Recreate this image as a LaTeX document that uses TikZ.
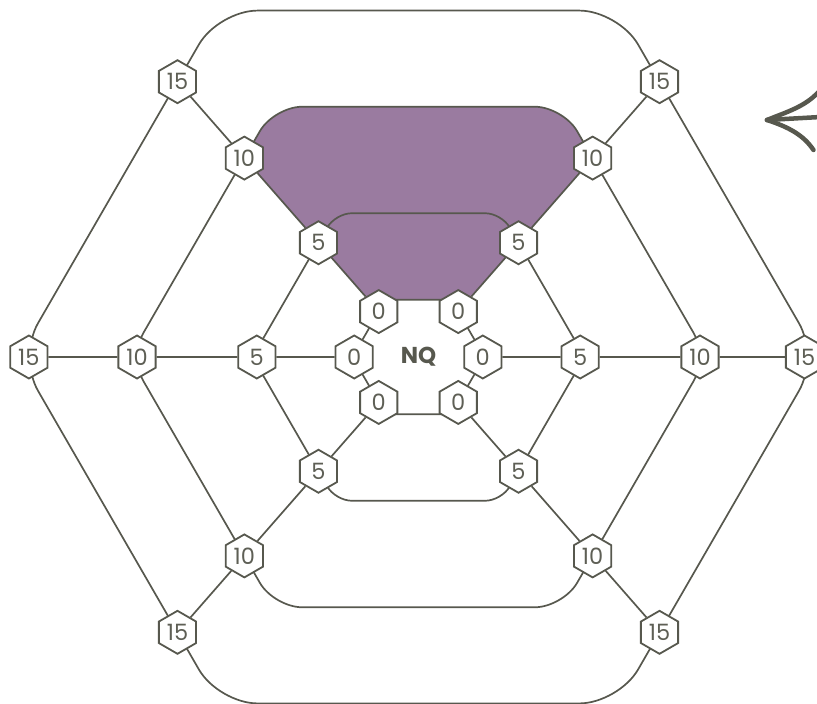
\documentclass[tikz,border=0pt]{standalone}
\usepackage{fontspec}
\setmainfont{Poppins}
\usetikzlibrary{shapes.geometric}
\definecolor{ink}{HTML}{57584E}
\definecolor{txt}{HTML}{5E5F55}
\definecolor{plum}{HTML}{9A7BA0}
\begin{document}
\begin{tikzpicture}[x=1pt,y=1pt,
  ringline/.style={draw=ink, line width=1.7pt},
  hexnode/.style={regular polygon, regular polygon sides=6, regular polygon rotate=30,
    minimum size=43pt, inner sep=0pt, draw=ink, line width=1.8pt, fill=white,
    text=txt, font=\fontsize{22.5}{22.5}\selectfont},
  arrowline/.style={draw=ink, line width=4.5pt, line cap=round}]
\useasboundingbox (-418.5,-347) rectangle (398.5,357);
% purple sector
\begin{scope}
  \clip (0,0) -- (131.2:520) -- (48.8:520) -- cycle;
  \fill[plum, even odd rule]
    [rounded corners=28.2pt] (0:289) -- (60:289) -- (120:289) -- (180:289) -- (240:289) -- (300:289) -- cycle
    [rounded corners=6.4pt] (0:66) -- (60:66) -- (120:66) -- (180:66) -- (240:66) -- (300:66) -- cycle;
\end{scope}
% rings
\draw[ringline, rounded corners=39pt] (0:400) -- (60:400) -- (120:400) -- (180:400) -- (240:400) -- (300:400) -- cycle;
\draw[ringline, rounded corners=28.2pt] (0:289) -- (60:289) -- (120:289) -- (180:289) -- (240:289) -- (300:289) -- cycle;
\draw[ringline, rounded corners=16.2pt] (0:166) -- (60:166) -- (120:166) -- (180:166) -- (240:166) -- (300:166) -- cycle;
\draw[ringline, rounded corners=6.4pt] (0:66) -- (60:66) -- (120:66) -- (180:66) -- (240:66) -- (300:66) -- cycle;
% nodes
\foreach \k/\R/\h in {0/66/64.3,5/166/161.7,10/289/281.5,15/400/386}{
  \node[hexnode] (n\k a) at (0:\h) {\k};
  \node[hexnode] (n\k b) at (48.8:{0.9148*\R}) {\k};
  \node[hexnode] (n\k c) at (131.2:{0.9148*\R}) {\k};
  \node[hexnode] (n\k d) at (180:{0.974*\R}) {\k};
  \node[hexnode] (n\k e) at (228.8:{0.9148*\R}) {\k};
  \node[hexnode] (n\k f) at (311.2:{0.9148*\R}) {\k};
}
% spokes
\foreach \s in {a,b,c,d,e,f}{
  \draw[ringline] (n0\s) -- (n5\s) -- (n10\s) -- (n15\s);
}
\node[text=ink, font=\fontsize{23}{23}\selectfont\bfseries] (nq) at (0,0) {NQ};
% arrow head at top right
\coordinate (tip) at (348.5,237);
\coordinate (shaftend) at (402,240);
\coordinate (upend) at (400,265);
\coordinate (lowend) at (395,207);
\draw[arrowline] (tip) -- (shaftend);
\draw[arrowline] (tip) .. controls (368,245) and (386,250) .. (upend);
\draw[arrowline] (tip) .. controls (370,230) and (385,222) .. (lowend);
\end{tikzpicture}
\end{document}
